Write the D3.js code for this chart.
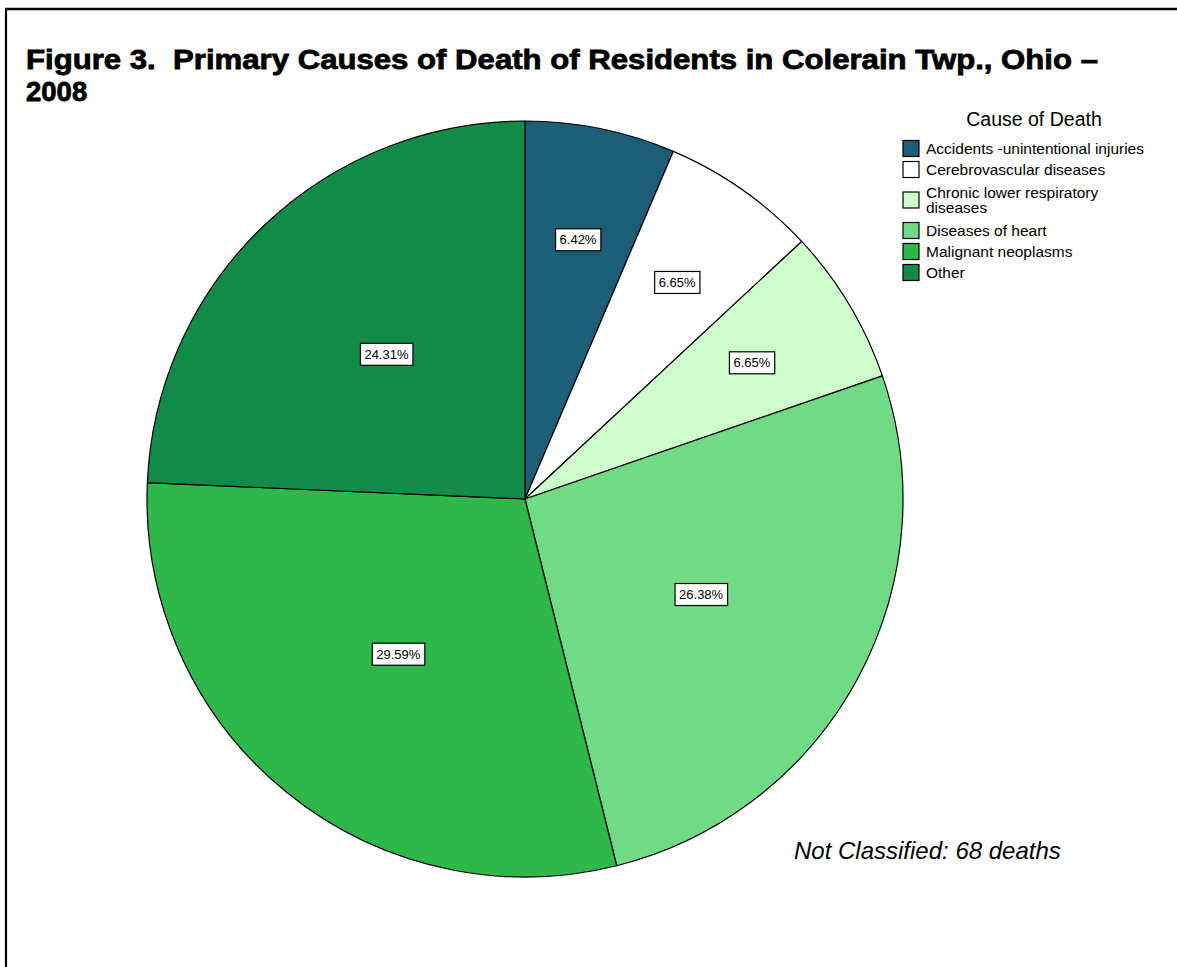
<!DOCTYPE html>
<html>
<head>
<meta charset="utf-8">
<script src="https://cdn.jsdelivr.net/npm/d3@7"></script>
<style>
	body { margin: 0; background: #fff; }
	svg { display: block; }
	.title text { white-space: pre; }
</style>
</head>
<body>
<div id="vis"></div>
<script>
const causes = [
	"Accidents -unintentional injuries",
	"Cerebrovascular diseases",
	"Chronic lower respiratory diseases",
	"Diseases of heart",
	"Malignant neoplasms",
	"Other"
];
const percents = [6.42, 6.65, 6.65, 26.38, 29.59, 24.31];
const colors = ["#1c5e75", "#ffffff", "#ccffcc", "#70db84", "#2eb84a", "#108c48"];
// legend text split into lines
const legendLines = [
	["Accidents -unintentional injuries"],
	["Cerebrovascular diseases"],
	["Chronic lower respiratory", "diseases"],
	["Diseases of heart"],
	["Malignant neoplasms"],
	["Other"]
];
const titleLines = [
	"Figure 3.  Primary Causes of Death of Residents in Colerain Twp., Ohio \u2013",
	"2008"
];
const noteText = "Not Classified: 68 deaths";

const W = 1177;
const H = 967;

const draw = () => {
	const svg = d3.select("#vis").append("svg")
		.attr("width", W)
		.attr("height", H);

	// frame (left and top edges only)
	svg.append("line")
		.attr("x1", 6).attr("y1", 9).attr("x2", 6).attr("y2", H)
		.attr("stroke", "#000").attr("stroke-width", 2.2);
	svg.append("line")
		.attr("x1", 5).attr("y1", 9).attr("x2", W).attr("y2", 9)
		.attr("stroke", "#000").attr("stroke-width", 2.4);

	// title
	const title = svg.append("g").attr("class", "title");
	title.selectAll("text")
		.data(titleLines)
		.join("text")
		.attr("x", 26)
		.attr("y", (d, i) => 69 + i * 32)
		.attr("xml:space", "preserve")
		.attr("font-family", "'Liberation Sans', Arial, sans-serif")
		.attr("font-weight", "bold")
		.attr("font-size", 27.5)
		.attr("stroke", "#000")
		.attr("stroke-width", 0.8)
		.attr("fill", "#000")
		.text(d => d);
	const t0 = title.select("text").node();
	if (t0.getComputedTextLength() > 0) {
		d3.select(t0)
			.attr("textLength", 1072)
			.attr("lengthAdjust", "spacingAndGlyphs");
	}

	// pie
	const cx = 525;
	const cy = 499;
	const radius = 378;

	const data = causes.map((c, i) => ({ cause: c, value: percents[i], color: colors[i] }));
	const pie = d3.pie().sort(null).value(d => d.value);
	const arc = d3.arc().innerRadius(0).outerRadius(radius);
	const arcs = pie(data);

	const pieG = svg.append("g").attr("transform", `translate(${cx},${cy})`);
	pieG.selectAll("path")
		.data(arcs)
		.join("path")
		.attr("d", arc)
		.attr("fill", d => d.data.color)
		.attr("stroke", "#000")
		.attr("stroke-width", 1.2)
		.attr("stroke-linejoin", "round");

	// value labels
	const labelG = pieG.append("g").attr("class", "labels");
	arcs.forEach(a => {
		const share = a.data.value / 100;
		const lr = share < 0.1 ? radius * 0.7 : radius * 0.53;
		const mid = (a.startAngle + a.endAngle) / 2;
		const lx = Math.sin(mid) * lr;
		const ly = -Math.cos(mid) * lr;
		const g = labelG.append("g").attr("transform", `translate(${lx},${ly})`);
		const rect = g.append("rect");
		const txt = g.append("text")
			.attr("text-anchor", "middle")
			.attr("dy", "0.35em")
			.attr("font-family", "'Liberation Sans', Arial, sans-serif")
			.attr("font-size", 13)
			.attr("fill", "#000")
			.text(a.data.value.toFixed(2) + "%");
		const bb = txt.node().getBBox();
		rect.attr("x", bb.x - 4)
			.attr("y", -11)
			.attr("width", bb.width + 8)
			.attr("height", 22)
			.attr("fill", "#fff")
			.attr("stroke", "#000")
			.attr("stroke-width", 1.2);
	});

	// legend
	const legend = svg.append("g").attr("class", "legend");
	legend.append("text")
		.attr("x", 1034)
		.attr("y", 126)
		.attr("text-anchor", "middle")
		.attr("font-family", "'Liberation Sans', Arial, sans-serif")
		.attr("font-size", 19.5)
		.attr("fill", "#000")
		.text("Cause of Death");

	let cursor = 138;
	data.forEach((d, i) => {
		const lines = legendLines[i];
		const cellH = 21 + 19 * (lines.length - 1);
		legend.append("rect")
			.attr("x", 903)
			.attr("y", cursor + (cellH - 16) / 2)
			.attr("width", 16)
			.attr("height", 16)
			.attr("fill", d.color)
			.attr("stroke", "#000")
			.attr("stroke-width", 1.2);
		const firstBase = cursor + cellH / 2 + 5 - (lines.length - 1) * 7.5;
		legend.append("text")
			.attr("font-family", "'Liberation Sans', Arial, sans-serif")
			.attr("font-size", 15.5)
			.attr("fill", "#000")
			.selectAll("tspan")
			.data(lines)
			.join("tspan")
			.attr("x", 926)
			.attr("y", (l, j) => firstBase + j * 15)
			.text(l => l);
		cursor += cellH;
	});

	// note
	svg.append("text")
		.attr("x", 794)
		.attr("y", 859)
		.attr("font-family", "'Liberation Sans', Arial, sans-serif")
		.attr("font-style", "italic")
		.attr("font-size", 24)
		.attr("fill", "#000")
		.text(noteText);
};

draw();
</script>
</body>
</html>
